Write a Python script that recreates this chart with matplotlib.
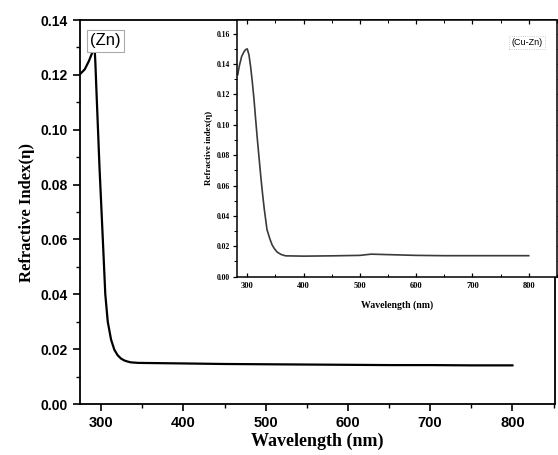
import numpy as np
import matplotlib
matplotlib.use('Agg')
import matplotlib.pyplot as plt
from matplotlib.ticker import MultipleLocator

# main curve (Zn)
wl_zn = [275, 280, 285, 289, 291, 292, 293, 294, 296, 298, 300, 302, 305, 308, 312, 316, 320, 324,
         328, 332, 336, 345, 400, 450, 500, 550, 600, 650, 700, 750, 800]
n_zn = [0.1205, 0.122, 0.125, 0.128, 0.1295, 0.1300, 0.124, 0.116, 0.101, 0.086, 0.073, 0.060,
        0.040, 0.030, 0.0235, 0.0198, 0.0178, 0.0166, 0.0159, 0.0155, 0.0152, 0.0150, 0.0148,
        0.0146, 0.0145, 0.0144, 0.0143, 0.0142, 0.0142, 0.0141, 0.0141]

# inset curve (Cu-Zn)
wl_cz = [283, 286, 290, 294, 297, 300, 303, 306, 309, 312, 315, 318, 321, 324, 327, 330, 335, 340,
         344, 348, 353, 360, 368, 400, 450, 500, 520, 550, 600, 650, 700, 750, 800]
n_cz = [0.133, 0.139, 0.145, 0.148, 0.1495, 0.150, 0.146, 0.138, 0.128, 0.1165, 0.103, 0.090,
        0.078, 0.066, 0.055, 0.045, 0.031, 0.025, 0.021, 0.0185, 0.0162, 0.0146, 0.0137, 0.0135,
        0.0137, 0.0140, 0.0148, 0.0145, 0.0140, 0.0138, 0.0138, 0.0138, 0.0138]

main_xticks = [300, 400, 500, 600, 700, 800]
main_yticks = [0.00, 0.02, 0.04, 0.06, 0.08, 0.10, 0.12, 0.14]
inset_yticks = [0.00, 0.02, 0.04, 0.06, 0.08, 0.10, 0.12, 0.14, 0.16]

serif = 'Liberation Serif'
sans = 'Liberation Sans'

fig = plt.figure(figsize=(5.58, 4.55), dpi=100)

ax = fig.add_axes([0.143, 0.112, 0.852, 0.844])
ax.plot(wl_zn, n_zn, color='black', lw=1.6)
ax.set_xlim(274, 852)
ax.set_ylim(0, 0.14)
ax.set_xticks(main_xticks)
ax.set_yticks(main_yticks)
ax.set_yticklabels([f'{v:.2f}' for v in main_yticks], fontfamily=sans, fontweight='bold', fontsize=10)
ax.set_xticklabels([str(v) for v in main_xticks], fontfamily=sans, fontweight='bold', fontsize=10.5)
ax.xaxis.set_minor_locator(MultipleLocator(50))
ax.yaxis.set_minor_locator(MultipleLocator(0.01))
ax.tick_params(which='major', direction='out', length=5, width=1.2)
ax.tick_params(which='minor', direction='out', length=3, width=1)
ax.set_xlabel('Wavelength (nm)', fontfamily=serif, fontweight='bold', fontsize=13, labelpad=2)
ax.set_ylabel('Refractive Index(η)', fontfamily=serif, fontweight='bold', fontsize=12, labelpad=4)
for s in ax.spines.values():
    s.set_linewidth(1.3)
ax.text(0.022, 0.965, '(Zn)', transform=ax.transAxes, fontfamily=sans, fontsize=12,
        va='top', ha='left',
        bbox=dict(boxstyle='square,pad=0.2', fc='white', ec='#aaaaaa', lw=0.8))

ins = fig.add_axes([0.425, 0.392, 0.573, 0.564])
ins.plot(wl_cz, n_cz, color='#3a3a3a', lw=1.2)
ins.set_xlim(282, 850)
ins.set_ylim(0, 0.169)
ins.set_xticks(main_xticks)
ins.set_yticks(inset_yticks)
ins.set_xticklabels([str(v) for v in main_xticks], fontfamily=serif, fontweight='bold', fontsize=6)
ins.set_yticklabels([f'{v:.2f}' for v in inset_yticks], fontfamily=serif, fontweight='bold', fontsize=5.5)
ins.xaxis.set_minor_locator(MultipleLocator(50))
ins.yaxis.set_minor_locator(MultipleLocator(0.01))
ins.tick_params(which='major', direction='out', length=3, width=0.9, pad=2,
                top=True, right=True)
ins.tick_params(which='minor', direction='out', length=2, width=0.7, top=True, right=True)
ins.tick_params(axis='x', which='both', top=True, direction='in', pad=4)
ins.set_xlabel('Wavelength (nm)', fontfamily=serif, fontweight='bold', fontsize=7, labelpad=7)
ins.set_ylabel('Refractive index(η)', fontfamily=serif, fontweight='bold', fontsize=6.5, labelpad=3)
for s in ins.spines.values():
    s.set_linewidth(1.1)
ins.text(0.955, 0.93, '(Cu-Zn)', transform=ins.transAxes, fontfamily=sans, fontsize=6.5,
         va='top', ha='right',
         bbox=dict(boxstyle='square,pad=0.25', fc='white', ec='#bbbbbb', lw=0.6, ls=':'))

fig.savefig('out.png', dpi=100)
